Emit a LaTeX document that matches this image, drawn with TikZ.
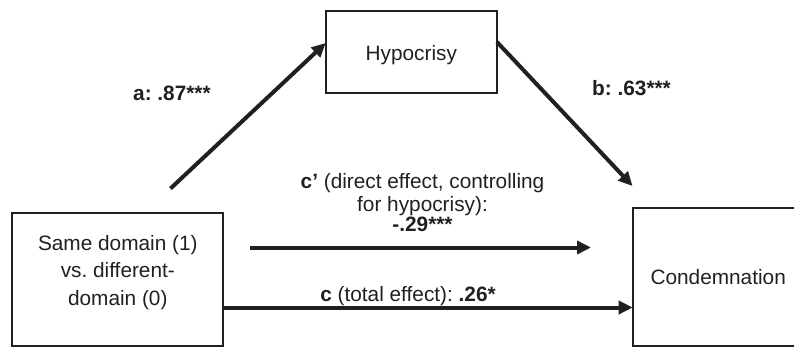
\documentclass[tikz,border=0pt]{standalone}
\usepackage{fontspec}
\setmainfont{Liberation Sans}
\usetikzlibrary{arrows.meta}
\definecolor{ink}{RGB}{35,31,32}
\definecolor{txt}{RGB}{35,31,32}
\frenchspacing
\begin{document}
\begin{tikzpicture}[x=1bp,y=-1bp,
  box/.style={draw=ink, line width=2bp, inner sep=0pt, outer sep=0pt, rectangle},
  lbl/.style={font=\fontsize{20.8bp}{27.3bp}\selectfont, text=txt, inner sep=0pt, anchor=base, align=center},
  arr/.style={draw=ink, line width=4bp, -{Triangle[length=14bp,width=13bp]}}]
\useasboundingbox (0,0) rectangle (794,348);
\begin{scope}
\clip (0,0) rectangle (794,348);
\node[box, minimum width=211bp, minimum height=133bp] (src) at (117.8,279.2) {};
\node[box, minimum width=171.3bp, minimum height=82.6bp] (hyp) at (411.35,52) {};
\node[box, minimum width=171.3bp, minimum height=137.7bp] (cond) at (718.35,277.15) {};
\end{scope}
\node[lbl] (srcT) at (117.8,305) {Same domain (1)\\vs. different-\\domain (0)};
\node[lbl] (hypT) at (411.3,60) {Hypocrisy};
\node[lbl] (condT) at (718.2,284) {Condemnation};
\node[lbl, anchor=base west] (aT) at (133,100) {\textbf{a: .87***}};
\node[lbl, anchor=base west] (bT) at (592,95) {\textbf{b: .63***}};
\node[lbl, font=\fontsize{20.8bp}{23.4bp}\selectfont] (cpT) at (422.5,231) {\textbf{c’} (direct effect, controlling\\for hypocrisy):\\[-4bp]\textbf{-.29***}};
\node[lbl] (cT) at (408,301.7) {\textbf{c} (total effect): \textbf{.26*}};
\coordinate (aS) at (170.5,188.5);
\coordinate (ya) at (0,43);
\coordinate (yb) at (0,42);
\coordinate (bE) at (632.5,186);
\coordinate (cpS) at (250,247.5);
\coordinate (cpE) at (591,247.5);
\coordinate (yc) at (0,307.5);
\draw[arr] (aS) -- (hyp.west |- ya);
\draw[arr] (hyp.east |- yb) -- (bE);
\draw[arr] (cpS) -- (cpE);
\draw[arr] (src.east |- yc) -- (cond.west |- yc);
\end{tikzpicture}
\end{document}
